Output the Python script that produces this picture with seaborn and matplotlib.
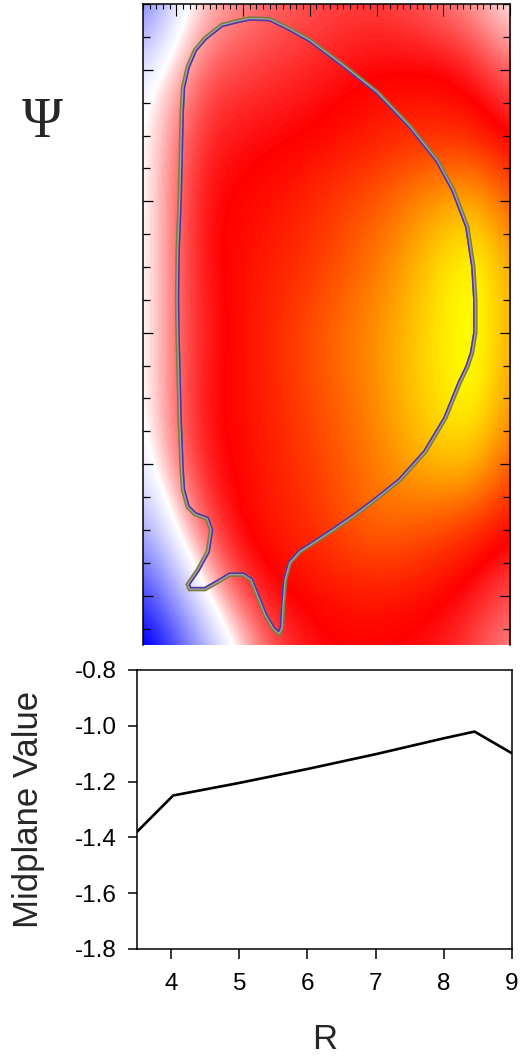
import numpy as np
import matplotlib
matplotlib.use("Agg")
import matplotlib.pyplot as plt
import seaborn as sns
import pandas as pd
from matplotlib.colors import LinearSegmentedColormap, Normalize
from matplotlib.patches import Polygon
from matplotlib.ticker import MultipleLocator

# ---------------- data ----------------
# psi field sampled on a coarse (R, Z) grid, read from the picture colours
R_nodes = [3.5, 4.0, 4.5, 5.0, 5.5, 6.0, 6.5, 7.0, 7.5, 8.0, 8.5, 9.0]
Z_nodes = [5, 4, 3, 2, 1, 0, -1, -2, -3, -4, -5]
psi_z_p5 = [-1.58, -1.41, -1.33, -1.30, -1.28, -1.27, -1.26, -1.26, -1.27, -1.29, -1.32, -1.37]
psi_z_p4 = [-1.40, -1.33, -1.27, -1.26, -1.25, -1.24, -1.23, -1.22, -1.22, -1.22, -1.24, -1.28]
psi_z_p3 = [-1.38, -1.29, -1.24, -1.23, -1.225, -1.22, -1.21, -1.20, -1.19, -1.19, -1.20, -1.23]
psi_z_p2 = [-1.38, -1.28, -1.225, -1.215, -1.205, -1.19, -1.17, -1.15, -1.12, -1.09, -1.08, -1.15]
psi_z_p1 = [-1.38, -1.28, -1.225, -1.21, -1.195, -1.18, -1.155, -1.125, -1.085, -1.04, -1.015, -1.09]
psi_z_00 = [-1.38, -1.28, -1.235, -1.21, -1.185, -1.16, -1.13, -1.105, -1.07, -1.035, -1.01, -1.09]
psi_z_m1 = [-1.38, -1.28, -1.225, -1.21, -1.19, -1.165, -1.14, -1.11, -1.07, -1.035, -1.02, -1.10]
psi_z_m2 = [-1.40, -1.29, -1.23, -1.215, -1.195, -1.175, -1.15, -1.12, -1.09, -1.065, -1.075, -1.15]
psi_z_m3 = [-1.50, -1.36, -1.26, -1.215, -1.20, -1.185, -1.16, -1.14, -1.15, -1.17, -1.19, -1.22]
psi_z_m4 = [-1.66, -1.50, -1.35, -1.26, -1.225, -1.215, -1.205, -1.205, -1.21, -1.22, -1.24, -1.27]
psi_z_m5 = [-1.82, -1.68, -1.50, -1.36, -1.27, -1.235, -1.225, -1.225, -1.23, -1.24, -1.27, -1.31]

# plasma boundary (R, Z)
boundary_R = [5.10, 5.40, 5.70, 6.00, 6.50, 7.01, 7.50, 7.91, 8.15, 8.36, 8.45, 8.48, 8.48,
              8.43, 8.36, 8.25, 8.03, 7.73, 7.35, 6.98, 6.68, 6.35, 6.05, 5.85, 5.70, 5.63,
              5.60, 5.58, 5.54, 5.45, 5.33, 5.21, 5.12, 5.00, 4.80, 4.62, 4.43, 4.20, 4.17,
              4.32, 4.47, 4.52, 4.46, 4.28, 4.17, 4.10, 4.08, 4.05, 4.02, 4.01, 4.02, 4.05,
              4.08, 4.10, 4.17, 4.28, 4.43, 4.68, 4.91]
boundary_Z = [4.78, 4.77, 4.62, 4.45, 4.07, 3.66, 3.14, 2.62, 2.17, 1.61, 1.00, 0.50, 0.00,
              -0.31, -0.52, -0.75, -1.30, -1.81, -2.24, -2.54, -2.77, -3.00, -3.20, -3.33, -3.50, -3.76,
              -4.14, -4.49, -4.58, -4.50, -4.29, -3.99, -3.76, -3.68, -3.68, -3.79, -3.90, -3.90, -3.83,
              -3.61, -3.33, -3.00, -2.83, -2.76, -2.65, -2.39, -2.09, -1.33, -0.11, 0.50, 1.26, 2.02,
              3.34, 3.73, 4.04, 4.30, 4.48, 4.68, 4.74]

# midplane profile
R_mid = [3.5, 4.03, 5.0, 6.0, 7.0, 8.0, 8.45, 9.0]
V_mid = [-1.38, -1.25, -1.205, -1.155, -1.102, -1.045, -1.021, -1.099]

x_ticks = [4, 5, 6, 7, 8, 9]
y_ticks = [-1.8, -1.6, -1.4, -1.2, -1.0, -0.8]

# colour anchors (value -> colour)
cmap_values = [-1.75, -1.37, -1.22, -1.02]
cmap_colors = ["#0000ff", "#ffffff", "#ff0000", "#ffff00"]

# ---------------- style ----------------
sns.set_style("ticks")
plt.rcParams["font.family"] = ["Liberation Sans", "DejaVu Sans"]
plt.rcParams["axes.unicode_minus"] = False

fig = plt.figure(figsize=(5.2, 10.61), dpi=100)

# ---------------- top panel: psi map ----------------
ax1 = fig.add_axes([0.275, 0.3921, 0.7058, 0.6041])
field = np.array([psi_z_p5, psi_z_p4, psi_z_p3, psi_z_p2, psi_z_p1, psi_z_00,
                  psi_z_m1, psi_z_m2, psi_z_m3, psi_z_m4, psi_z_m5])
vmin, vmax = cmap_values[0], cmap_values[-1]
pos = [(v - vmin) / (vmax - vmin) for v in cmap_values]
cmap = LinearSegmentedColormap.from_list("psi", list(zip(pos, cmap_colors)))
dR = R_nodes[1] - R_nodes[0]
dZ = Z_nodes[0] - Z_nodes[1]
ax1.imshow(field, cmap=cmap, norm=Normalize(vmin, vmax, clip=True), interpolation="bicubic",
           extent=[R_nodes[0] - dR / 2, R_nodes[-1] + dR / 2,
                   Z_nodes[-1] - dZ / 2, Z_nodes[0] + dZ / 2],
           origin="upper", aspect="auto")

verts = np.column_stack([boundary_R, boundary_Z])
outer = Polygon(verts, closed=True, fill=False, edgecolor="#7d7d3c", linewidth=3.2, zorder=3)
ax1.add_patch(outer)
inner = Polygon(verts, closed=True, fill=False, edgecolor="#5232a8", linewidth=3.2, zorder=4)
ax1.add_patch(inner)
inner.set_clip_path(outer)
center = Polygon(verts, closed=True, fill=False, edgecolor="#a0a0a0", linewidth=1.0, zorder=5)
ax1.add_patch(center)

ax1.set_xlim(3.5, 9.0)
ax1.set_ylim(-4.75, 5.0)
ax1.xaxis.set_major_locator(MultipleLocator(1))
ax1.xaxis.set_minor_locator(MultipleLocator(0.1))
ax1.yaxis.set_major_locator(MultipleLocator(2))
ax1.yaxis.set_minor_locator(MultipleLocator(0.5))
ax1.tick_params(axis="x", which="both", direction="in", top=True, bottom=False,
                labeltop=False, labelbottom=False, color="black")
ax1.tick_params(axis="x", which="major", length=8.5, width=0.8)
ax1.tick_params(axis="x", which="minor", length=3.8, width=0.8)
ax1.tick_params(axis="y", which="both", direction="in", left=True, right=True,
                labelleft=False, labelright=False, color="black")
ax1.tick_params(axis="y", which="major", length=7, width=0.9)
ax1.tick_params(axis="y", which="minor", length=5, width=0.9)
for side in ["left", "top", "right"]:
    ax1.spines[side].set_linewidth(1.1)
    ax1.spines[side].set_color("black")
ax1.spines["bottom"].set_visible(False)

fig.text(42 / 520, 1 - 123 / 1061, "\u03a8", family=["Liberation Serif", "DejaVu Serif"],
         fontsize=40, ha="center", va="center")

# ---------------- bottom panel: midplane profile ----------------
ax2 = fig.add_axes([0.2635, 0.1056, 0.7212, 0.2630])
df = pd.DataFrame({"R": R_mid, "Midplane Value": V_mid})
sns.lineplot(data=df, x="R", y="Midplane Value", ax=ax2, color="black", linewidth=1.9)
ax2.set_xlim(3.5, 9.0)
ax2.set_ylim(-1.8, -0.8)
ax2.set_xticks(x_ticks)
ax2.set_xticklabels([str(t) for t in x_ticks])
ax2.set_yticks(y_ticks)
ax2.set_yticklabels([f"{t:.1f}" for t in y_ticks])
ax2.tick_params(axis="both", direction="out", labelsize=17.5, width=1.1, colors="black")
ax2.tick_params(axis="x", length=7.5, pad=10)
ax2.tick_params(axis="y", length=6.5, pad=8)
for side in ["left", "top", "right", "bottom"]:
    ax2.spines[side].set_visible(True)
    ax2.spines[side].set_linewidth(1.1)
    ax2.spines[side].set_color("black")
ax2.set_xlabel("R", fontsize=25)
ax2.set_ylabel("Midplane Value", fontsize=25)
ax2.xaxis.set_label_coords(0.5, -0.265)
ax2.yaxis.set_label_coords(-0.245, 0.5)

fig.savefig("out.png", dpi=100)
